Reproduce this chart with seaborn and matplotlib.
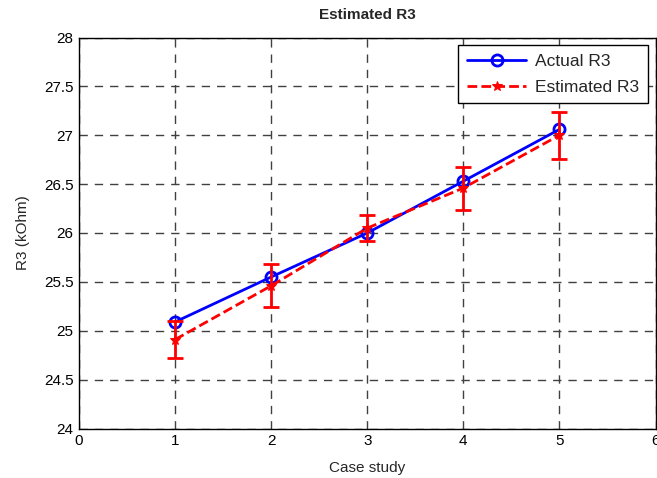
import matplotlib
matplotlib.use("Agg")
import matplotlib.pyplot as plt
import seaborn as sns
import pandas as pd

case_study = [1, 2, 3, 4, 5]
actual_r3 = [25.09, 25.55, 26.00, 26.53, 27.06]
estimated_r3 = [24.91, 25.46, 26.05, 26.46, 27.00]
estimated_err = [0.19, 0.22, 0.13, 0.22, 0.24]
x_ticks = [0, 1, 2, 3, 4, 5, 6]
y_ticks = [24, 24.5, 25, 25.5, 26, 26.5, 27, 27.5, 28]
y_ticklabels = ["24", "24.5", "25", "25.5", "26", "26.5", "27", "27.5", "28"]

sns.set_style("white")
plt.rcParams['font.family'] = ['Liberation Sans', 'DejaVu Sans']

df = pd.DataFrame({"case": case_study, "actual": actual_r3, "est": estimated_r3})

fig = plt.figure(figsize=(6.57, 4.78), dpi=100)
ax = fig.add_axes([79 / 657, 1 - 428.5 / 478, (655.5 - 79) / 657, (428.5 - 37.5) / 478])

sns.lineplot(data=df, x="case", y="actual", ax=ax, color="#0000ff", lw=2,
             marker="o", markersize=8, markerfacecolor="none",
             markeredgecolor="#0000ff", markeredgewidth=2, label="Actual R3", zorder=4)
sns.lineplot(data=df, x="case", y="est", ax=ax, color="#ff0000", lw=2,
             linestyle=(0, (3.5, 1.5)), marker="*", markersize=7,
             markerfacecolor="#ff0000", markeredgecolor="#ff0000",
             label="Estimated R3", zorder=5)
ax.errorbar(case_study, estimated_r3, yerr=estimated_err, fmt="none",
            ecolor="#ff0000", elinewidth=2, capsize=6, capthick=2, zorder=5)

ax.set_xlim(0, 6)
ax.set_ylim(24, 28)
ax.set_xticks(x_ticks)
ax.set_yticks(y_ticks)
ax.set_yticklabels(y_ticklabels)
ax.tick_params(axis="both", labelsize=11, length=0, pad=4, colors="#000000")
ax.grid(True, color="#404040", linestyle=(0, (6, 5)), linewidth=1)
for s in ax.spines.values():
    s.set_color("black")
    s.set_linewidth(1)

ax.set_xlabel("Case study", fontsize=11, labelpad=9)
ax.set_ylabel("R3 (kOhm)", fontsize=11, labelpad=10)
ax.set_title("Estimated R3", fontsize=11, fontweight="bold", pad=13)

leg = ax.legend(loc="upper right", fontsize=12.5, frameon=True, fancybox=False,
                framealpha=1, edgecolor="black", borderaxespad=0.45,
                handlelength=3.4, handletextpad=0.5, borderpad=0.5,
                labelspacing=0.6)
leg.get_frame().set_linewidth(1)

fig.savefig("out.png", dpi=100)
